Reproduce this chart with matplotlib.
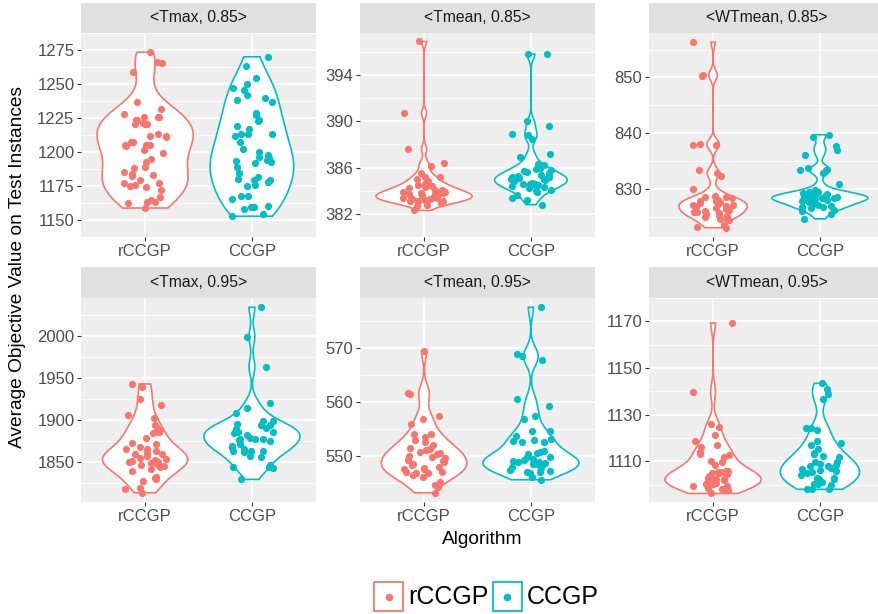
import numpy as np
import matplotlib.pyplot as plt
from matplotlib.patches import Rectangle
from matplotlib.lines import Line2D

plt.rcParams['font.family'] = ['Liberation Sans', 'DejaVu Sans']

algos = ["rCCGP", "CCGP"]
colors = ["#F8766D", "#00BFC4"]
titles = ["<Tmax, 0.85>", "<Tmean, 0.85>", "<WTmean, 0.85>",
          "<Tmax, 0.95>", "<Tmean, 0.95>", "<WTmean, 0.95>"]

# values
tmax85_r = [1273.3, 1265.7, 1266.4, 1259, 1236.9, 1231.7, 1228.2, 1225.9, 1225.9, 1225.9,
            1223.7, 1223.3, 1220.9, 1221.1, 1220.5, 1220.5, 1211.9, 1213.6, 1211.9, 1211,
            1207.5, 1207, 1205, 1204.3, 1205, 1205.4, 1201.5, 1199.4, 1195, 1192.9,
            1189.2, 1188.6, 1185, 1183.5, 1183.1, 1182.1, 1179.5, 1177.4, 1177.4, 1175.2,
            1175.6, 1172.4, 1174.4, 1166.6, 1164.9, 1162.9, 1162.3, 1163.1, 1158.8]
tmax85_c = [1270, 1263.6, 1254.1, 1246.8, 1250.2, 1245.9, 1238.1, 1239.4, 1241.6, 1236.4,
            1228.7, 1226.9, 1223.1, 1223.5, 1219.2, 1217, 1213.4, 1213.6, 1211.4, 1213.6,
            1207.1, 1200.2, 1201.9, 1197.6, 1196.3, 1193.3, 1194.2, 1192.9, 1195.5, 1192,
            1189, 1184.7, 1179.1, 1179.1, 1180.4, 1178.2, 1181.9, 1176, 1175.2, 1167.5,
            1167.5, 1165.3, 1160.1, 1159.7, 1159.3, 1158, 1154.5, 1152.8]
tmean85_r = [396.9, 390.7, 387.6, 386.4, 386.1, 385.5, 385.2, 385.2, 385.0, 384.5,
             384.4, 384.5, 384.3, 384.1, 384.1, 384.2, 383.8, 383.9, 383.7, 383.7,
             383.7, 383.8, 383.6, 383.4, 383.3, 383.4, 383.2, 383.5, 383.3, 383.4,
             383.1, 383.1, 383.1, 383.1, 382.8, 382.7, 382.3, 384.0, 383.6, 383.9,
             384.6, 383.2, 382.9, 383.5, 384.8]
tmean85_c = [395.8, 395.8, 390.0, 389.6, 388.9, 388.8, 388.5, 387.2, 386.9, 386.2,
             386.3, 386.0, 385.9, 385.8, 385.7, 385.6, 385.3, 385.2, 385.1, 385.2,
             384.9, 384.9, 384.6, 384.6, 384.5, 384.5, 384.6, 384.1, 384.2, 384.0,
             383.9, 383.6, 383.4, 383.2, 382.8, 385.0, 385.4, 384.8, 385.5, 384.3,
             385.1, 384.7, 385.3, 384.4, 385.0]
wtmean85_r = [856.3, 850.5, 850.3, 838.1, 837.8, 837.9, 832.8, 833.3, 832.3, 830.0,
              828.6, 828.3, 828.7, 828.6, 827.7, 827.3, 827.8, 827.8, 827.1, 826.9,
              827.0, 826.6, 825.8, 825.4, 826.0, 825.9, 825.2, 824.8, 824.9, 824.3,
              823.0, 823.1, 823.5, 826.2, 827.4, 826.5, 825.6, 828.0, 826.8, 824.6,
              827.6, 825.1, 826.3]
wtmean85_c = [839.3, 839.7, 837.7, 837.0, 836.0, 833.4, 833.4, 833.8, 832.8, 830.9,
              829.7, 829.5, 829.4, 829.1, 829.2, 828.9, 828.4, 828.0, 828.4, 828.2,
              828.3, 828.3, 828.0, 827.6, 827.3, 827.1, 826.8, 826.9, 826.7, 826.5,
              826.0, 825.4, 824.6, 828.6, 828.1, 827.8, 828.5, 828.9, 827.5, 826.2,
              828.7]
tmax95_r = [1943.3, 1939.3, 1918.7, 1925.0, 1902.8, 1906.7, 1894.0, 1890.9, 1886.1, 1885.0,
            1868.7, 1865.5, 1879.0, 1871.8, 1873.4, 1859.9, 1857.5, 1863.1, 1859.9, 1850.4,
            1851.5, 1850.4, 1848.8, 1852.8, 1853.5, 1845.6, 1844.0, 1848.0, 1846.4, 1842.5,
            1840.0, 1832.9, 1829.8, 1831.3, 1828.2, 1819.4, 1813.9, 1817.9, 1888.0, 1861.0,
            1855.0, 1866.0]
tmax95_c = [2034.5, 1999.6, 1963.9, 1921.0, 1914.7, 1908.3, 1899.6, 1898.8, 1895.6, 1895.0,
            1891.0, 1894.8, 1886.9, 1884.5, 1886.5, 1887.5, 1886.0, 1877.4, 1879.0, 1878.2,
            1876.5, 1876.0, 1877.8, 1863.1, 1863.1, 1863.9, 1868.7, 1866.3, 1862.5, 1856.7,
            1857.5, 1844.0, 1843.3, 1844.0, 1846.5, 1829.8, 1882.0, 1872.0, 1890.0, 1870.0]
tmean95_r = [569.5, 561.6, 561.5, 557.4, 556.8, 556.0, 554.1, 554.0, 553.5, 553.0,
             552.5, 551.2, 551.1, 550.7, 550.4, 550.5, 551.4, 550.0, 549.3, 549.7,
             549.1, 548.6, 548.9, 548.3, 547.8, 547.5, 547.0, 547.5, 546.9, 546.8,
             547.0, 546.5, 546.2, 545.1, 544.7, 544.3, 543.2, 552.0, 548.0, 549.8]
tmean95_c = [577.5, 568.5, 568.9, 567.8, 560.5, 559.3, 557.3, 556.8, 554.7, 553.7,
             554.7, 552.8, 553.2, 553.0, 552.5, 552.5, 550.9, 550.7, 550.5, 549.8,
             550.4, 549.9, 548.9, 548.7, 549.2, 548.6, 548.8, 548.6, 548.3, 547.9,
             547.8, 547.4, 547.2, 546.9, 547.0, 547.1, 546.2, 545.6, 549.0, 548.5,
             549.5]
wtmean95_r = [1169.3, 1139.7, 1126.0, 1124.7, 1121.3, 1118.9, 1117.0, 1116.0, 1114.1, 1112.8,
              1113.2, 1110.2, 1112.0, 1109.6, 1108.6, 1105.7, 1104.9, 1105.6, 1104.6, 1105.3,
              1104.8, 1103.8, 1102.2, 1101.4, 1102.5, 1101.2, 1102.0, 1102.0, 1100.1, 1100.1,
              1099.6, 1098.5, 1097.7, 1097.5, 1096.2, 1098.3, 1099.3, 1103.0, 1106.0, 1100.8]
wtmean95_c = [1143.4, 1141.0, 1138.7, 1136.6, 1123.4, 1124.4, 1124.4, 1116.8, 1118.6, 1117.8,
              1113.6, 1115.2, 1113.3, 1112.3, 1111.7, 1109.9, 1109.7, 1108.1, 1108.6, 1108.8,
              1108.1, 1106.7, 1105.9, 1105.4, 1106.1, 1104.9, 1102.8, 1103.0, 1102.2, 1102.2,
              1099.7, 1100.4, 1100.4, 1101.0, 1098.3, 1098.0, 1098.3, 1107.0, 1104.0]

data = [(tmax85_r, tmax85_c), (tmean85_r, tmean85_c), (wtmean85_r, wtmean85_c),
        (tmax95_r, tmax95_c), (tmean95_r, tmean95_c), (wtmean95_r, wtmean95_c)]
yticks = [[1150, 1175, 1200, 1225, 1250, 1275], [382, 386, 390, 394], [830, 840, 850],
          [1850, 1900, 1950, 2000], [550, 560, 570], [1110, 1130, 1150, 1170]]

W, H = 879, 614
fig = plt.figure(figsize=(W / 100, H / 100), dpi=100)


def box(x0, y0, x1, y1):
    # pixel box (top-left origin) -> figure fraction rect
    return [x0 / W, 1 - y1 / H, (x1 - x0) / W, (y1 - y0) / H]


def kde(v):
    v = np.asarray(v, float)
    n = len(v)
    iqr = np.percentile(v, 75) - np.percentile(v, 25)
    bw = 0.9 * min(v.std(ddof=1), iqr / 1.34) * n ** -0.2
    y = np.linspace(v.min(), v.max(), 512)
    d = np.exp(-0.5 * ((y[:, None] - v[None, :]) / bw) ** 2).sum(1) / (n * bw * np.sqrt(2 * np.pi))
    return y, d


rng = np.random.default_rng(7)
cols_x = [(81, 316), (360, 595), (649, 884)]
rows_y = [(3, 33, 237), (267, 298, 502)]

for i, (groups, title, ticks) in enumerate(zip(data, titles, yticks)):
    r, c = divmod(i, 3)
    x0, x1 = cols_x[c]
    s0, p0, p1 = rows_y[r]
    ax = fig.add_axes(box(x0, p0, x1, p1))
    st = fig.add_axes(box(x0, s0, x1, p0))
    st.set_facecolor('#E0E0E0')
    st.set_xticks([]); st.set_yticks([])
    for sp in st.spines.values():
        sp.set_visible(False)
    st.text(0.5, 0.5, title, ha='center', va='center', fontsize=11.3, color='#1A1A1A',
            transform=st.transAxes)

    dens = [kde(g) for g in groups]
    dmax = max(d.max() for _, d in dens)
    for k, (g, (yy, dd)) in enumerate(zip(groups, dens)):
        pos = k + 1
        w = dd / dmax * 0.45
        xs = np.concatenate([pos - w, (pos + w)[::-1]])
        ys = np.concatenate([yy, yy[::-1]])
        ax.fill(xs, ys, facecolor='white', edgecolor=colors[k], lw=1.2, zorder=2)
        jit = rng.uniform(-0.2, 0.2, len(g))
        ax.scatter(pos + jit, g, s=27, color=colors[k], lw=0, zorder=3)

    allv = np.concatenate([np.asarray(g, float) for g in groups])
    lo, hi = allv.min(), allv.max()
    pad = 0.05 * (hi - lo)
    ax.set_ylim(lo - pad, hi + pad)
    ax.set_xlim(0.4, 2.6)
    ax.set_xticks([1, 2])
    ax.set_xticklabels(algos)
    step = ticks[1] - ticks[0]
    ax.set_yticks(ticks)
    ax.set_yticks([t - step / 2 for t in ticks] + [ticks[-1] + step / 2], minor=True)
    ax.set_facecolor('#EEEEEE')
    for sp in ax.spines.values():
        sp.set_visible(False)
    ax.grid(which='major', color='white', lw=1.1)
    ax.grid(which='minor', axis='y', color='white', lw=0.55)
    ax.set_axisbelow(True)
    ax.tick_params(which='major', length=2.7, width=0.8, color='#333333',
                   labelcolor='#4D4D4D', labelsize=12, pad=2)
    ax.tick_params(which='minor', length=0)

fig.text(18 / W, 1 - 267 / H, 'Average Objective Value on Test Instances', rotation=90,
         ha='center', va='center', fontsize=13.8, color='black')
fig.text(482 / W, 1 - 540 / H, 'Algorithm', ha='center', va='center', fontsize=13.8,
         color='black')

# legend
for k, (name, bx) in enumerate(zip(algos, [374, 493])):
    fig.add_artist(Rectangle((bx / W, 1 - 611 / H), 29 / W, 29 / H, transform=fig.transFigure,
                             facecolor='white', edgecolor=colors[k], lw=1.3))
    fig.add_artist(Line2D([(bx + 14.5) / W], [1 - 596.5 / H], marker='o', ms=4.5,
                          color=colors[k], lw=0, transform=fig.transFigure))
    fig.text((bx + 34) / W, 1 - 597 / H, name, ha='left', va='center', fontsize=18,
             color='black')

fig.savefig('out.png', dpi=100)
